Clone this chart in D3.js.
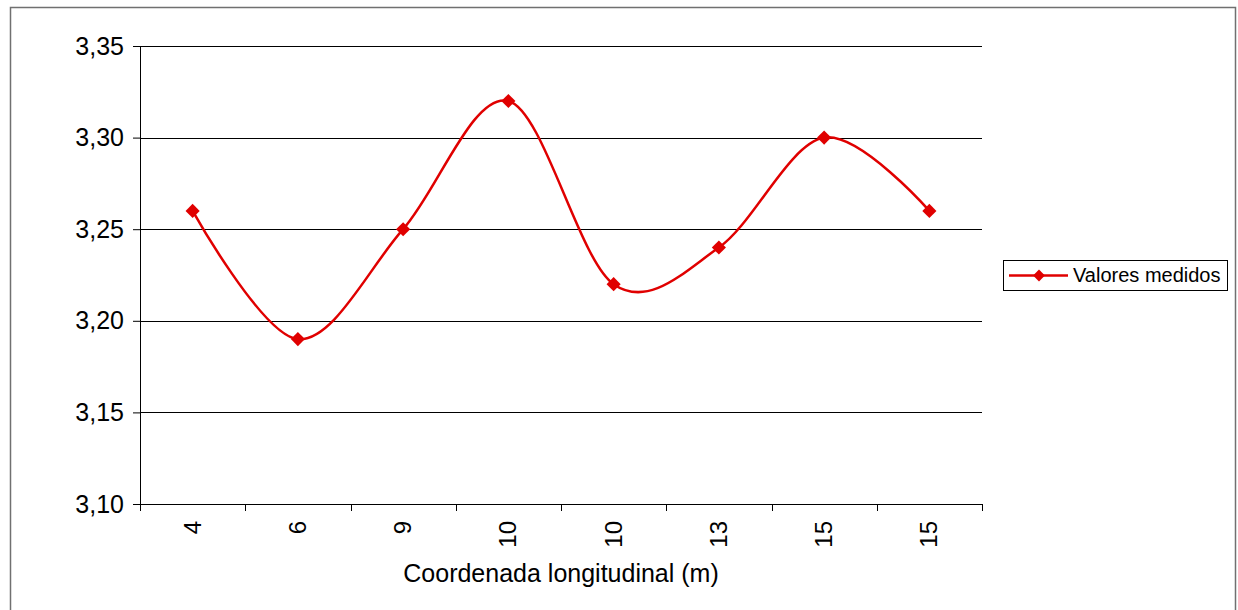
<!DOCTYPE html>
<html>
<head>
<meta charset="utf-8">
<script src="https://cdn.jsdelivr.net/npm/d3@7"></script>
<style>
  body { margin: 0; background: #fff; }
  svg { display: block; font-family: "Liberation Sans", Arial, sans-serif; }
</style>
</head>
<body>
<div id="chart"></div>
<script>
var svgWidth = 1238;
var svgHeight = 610;

// data
var categories = ["4", "6", "9", "10", "10", "13", "15", "15"];
var values = [3.26, 3.19, 3.25, 3.32, 3.22, 3.24, 3.30, 3.26];
var yTicks = [3.10, 3.15, 3.20, 3.25, 3.30, 3.35];
var seriesName = "Valores medidos";
var xTitle = "Coordenada longitudinal (m)";

var margin = { top: 46, right: 256, bottom: 106, left: 140 };
var width = svgWidth - margin.left - margin.right;
var height = svgHeight - margin.top - margin.bottom;
var red = "#e00000";

var svg = d3.select("#chart")
  .append("svg")
  .attr("width", svgWidth)
  .attr("height", svgHeight);

// outer chart frame (bottom edge falls off the picture)
svg.append("path")
  .attr("d", "M10.5,612 V7.5 H1235.5 V612")
  .attr("fill", "none")
  .attr("stroke", "#707070")
  .attr("stroke-width", 1.5);

var chartGroup = svg.append("g")
  .attr("transform", `translate(${margin.left}, ${margin.top})`);

// index based band scale, because the labels repeat
var xBand = d3.scaleBand()
  .domain(d3.range(categories.length))
  .range([0, width]);

var yLinearScale = d3.scaleLinear()
  .domain([3.10, 3.35])
  .range([height, 0]);

// horizontal gridlines
chartGroup.selectAll(".grid")
  .data(yTicks.slice(1))
  .enter()
  .append("line")
  .attr("x1", 0)
  .attr("x2", width)
  .attr("y1", d => Math.round(yLinearScale(d)) + 0.5)
  .attr("y2", d => Math.round(yLinearScale(d)) + 0.5)
  .attr("stroke", "#000")
  .attr("stroke-width", 1);

// y axis
var leftAxis = d3.axisLeft(yLinearScale)
  .tickValues(yTicks)
  .tickSize(7)
  .tickPadding(9)
  .tickFormat(d => d3.format(".2f")(d).replace(".", ","));

var yAxis = chartGroup.append("g")
  .call(leftAxis);
yAxis.select(".domain").remove();
yAxis.append("line")
  .attr("x1", 0.5).attr("x2", 0.5)
  .attr("y1", 0).attr("y2", height)
  .attr("stroke", "#000");
yAxis.selectAll("text")
  .attr("font-size", "25px")
  .attr("fill", "#000")
  .attr("font-family", "Liberation Sans, Arial, sans-serif");

// x axis: ticks at the band edges, labels at the centres
var xAxis = chartGroup.append("g")
  .attr("transform", `translate(0, ${height})`);

xAxis.append("line")
  .attr("x1", 0).attr("x2", width)
  .attr("y1", 0.5).attr("y2", 0.5)
  .attr("stroke", "#000");

xAxis.selectAll(".xtick")
  .data(d3.range(categories.length + 1))
  .enter()
  .append("line")
  .attr("x1", d => Math.round(d * xBand.step()) + 0.5)
  .attr("x2", d => Math.round(d * xBand.step()) + 0.5)
  .attr("y1", 0)
  .attr("y2", 7)
  .attr("stroke", "#000");

xAxis.selectAll(".xlabel")
  .data(categories)
  .enter()
  .append("text")
  .attr("transform", (d, i) => `translate(${xBand(i) + xBand.bandwidth() / 2 + 8}, 17) rotate(-90)`)
  .attr("text-anchor", "end")
  .attr("font-size", "24px")
  .attr("fill", "#000")
  .text(d => d);

// axis title
chartGroup.append("text")
  .attr("x", width / 2)
  .attr("y", height + 78)
  .attr("text-anchor", "middle")
  .attr("font-size", "25px")
  .attr("fill", "#000")
  .text(xTitle);

// smoothed series line
var line = d3.line()
  .x((d, i) => xBand(i) + xBand.bandwidth() / 2)
  .y(d => yLinearScale(d))
  .curve(d3.curveCardinal.tension(0));

chartGroup.append("path")
  .datum(values)
  .attr("d", line)
  .attr("fill", "none")
  .attr("stroke", red)
  .attr("stroke-width", 2.5);

var diamond = d3.symbol().type(d3.symbolSquare).size(100);

chartGroup.selectAll(".marker")
  .data(values)
  .enter()
  .append("path")
  .attr("d", diamond)
  .attr("transform", (d, i) => `translate(${xBand(i) + xBand.bandwidth() / 2}, ${yLinearScale(d)}) rotate(45)`)
  .attr("fill", red);

// legend
var legend = svg.append("g")
  .attr("transform", "translate(1003, 260)");

legend.append("rect")
  .attr("x", 0.5).attr("y", 0.5)
  .attr("width", 224).attr("height", 30)
  .attr("fill", "#fff")
  .attr("stroke", "#000")
  .attr("stroke-width", 1);

legend.append("line")
  .attr("x1", 6).attr("x2", 65)
  .attr("y1", 15.5).attr("y2", 15.5)
  .attr("stroke", red)
  .attr("stroke-width", 2.5);

legend.append("path")
  .attr("d", d3.symbol().type(d3.symbolSquare).size(70))
  .attr("transform", "translate(36, 15.5) rotate(45)")
  .attr("fill", red);

legend.append("text")
  .attr("x", 70)
  .attr("y", 22)
  .attr("font-size", "20px")
  .attr("fill", "#000")
  .text(seriesName);
</script>
</body>
</html>
